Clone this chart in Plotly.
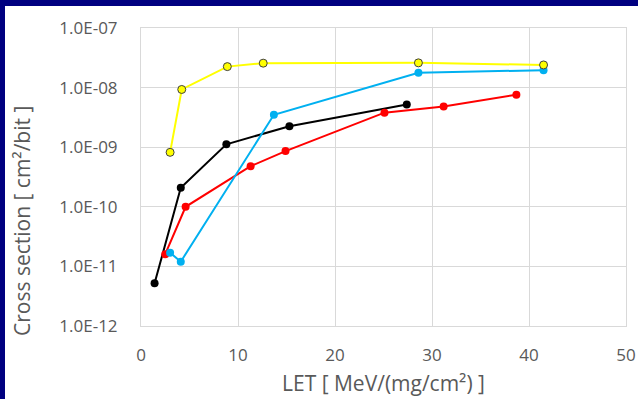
import plotly.graph_objects as go

# Data
yellow_x = [3.0, 4.2, 8.9, 12.6, 28.6, 41.5]
yellow_y = [8.2e-10, 9.3e-9, 2.25e-8, 2.57e-8, 2.6e-8, 2.4e-8]

blue_x = [3.0, 4.1, 13.7, 28.6, 41.5]
blue_y = [1.7e-11, 1.2e-11, 3.5e-9, 1.78e-8, 1.96e-8]

black_x = [1.4, 4.1, 8.8, 15.3, 27.4]
black_y = [5.2e-12, 2.08e-10, 1.12e-9, 2.25e-9, 5.2e-9]

red_x = [2.5, 4.6, 11.3, 14.9, 25.1, 31.2, 38.7]
red_y = [1.6e-11, 1.0e-10, 4.8e-10, 8.6e-10, 3.8e-9, 4.8e-9, 7.6e-9]

y_tickvals = [1e-12, 1e-11, 1e-10, 1e-9, 1e-8, 1e-7]
y_ticktext = ["1.0E-12", "1.0E-11", "1.0E-10", "1.0E-09", "1.0E-08", "1.0E-07"]
x_tickvals = [0, 10, 20, 30, 40, 50]

FONT = "Open Sans"
GRAY = "#595959"
GRID = "#d9d9d9"

W, H = 638, 399
ML, MR, MT, MB = 141, 12, 28, 73
PW = W - ML - MR
PH = H - MT - MB

fig = go.Figure()

def add(x, y, color, mcolor, lcolor_m, lw_m):
    fig.add_trace(go.Scatter(
        x=x, y=y, mode="lines+markers",
        line=dict(color=color, width=2),
        marker=dict(size=8, color=mcolor, line=dict(color=lcolor_m, width=lw_m)),
        showlegend=False,
    ))

add(black_x, black_y, "#000000", "#000000", "#000000", 0)
add(red_x, red_y, "#ff0000", "#ff0000", "#ff0000", 0)
add(blue_x, blue_y, "#00b0f0", "#00b0f0", "#00b0f0", 0)
add(yellow_x, yellow_y, "#ffff00", "#ffff00", "#404040", 1)

fig.update_layout(
    width=W, height=H, autosize=False,
    margin=dict(l=ML, r=MR, t=MT, b=MB),
    paper_bgcolor="white", plot_bgcolor="white",
    font=dict(family=FONT, color=GRAY),
    showlegend=False,
    xaxis=dict(
        range=[0, 50], tickvals=x_tickvals, automargin=False,
        showgrid=True, gridcolor=GRID, gridwidth=1,
        showline=True, linecolor=GRID, linewidth=1, mirror=True,
        zeroline=False, ticks="", ticklabelstandoff=14,
        tickfont=dict(family=FONT, size=17, color=GRAY),
    ),
    yaxis=dict(
        type="log", range=[-12, -7], tickvals=y_tickvals, ticktext=y_ticktext,
        automargin=False,
        showgrid=True, gridcolor=GRID, gridwidth=1,
        showline=True, linecolor=GRID, linewidth=1, mirror=True,
        zeroline=False, ticks="", ticklabelstandoff=19,
        tickfont=dict(family=FONT, size=17, color=GRAY),
    ),
    annotations=[
        dict(text="LET [ MeV/(mg/cm²) ]", xref="paper", yref="paper",
             x=0.5, y=-(383 - MT - PH) / PH, xanchor="center", yanchor="middle",
             showarrow=False, font=dict(family=FONT, size=21, color=GRAY)),
        dict(text="Cross section [ cm²/bit ]", xref="paper", yref="paper",
             x=-(ML - 22) / PW, y=1 - (221 - MT) / PH, xanchor="center", yanchor="middle",
             textangle=-90, showarrow=False, font=dict(family=FONT, size=21, color=GRAY)),
    ],
    shapes=[
        dict(type="rect", xref="paper", yref="paper",
             x0=-ML / PW, x1=(W - ML) / PW, y0=1 + (MT - 6) / PH, y1=1 + MT / PH,
             fillcolor="#000080", line=dict(width=0), layer="above"),
        dict(type="rect", xref="paper", yref="paper",
             x0=-ML / PW, x1=-(ML - 5) / PW, y0=-MB / PH, y1=1 + MT / PH,
             fillcolor="#000080", line=dict(width=0), layer="above"),
    ],
)

fig.write_html(
    "out.html",
    config={"displayModeBar": False, "responsive": False},
    default_width="638px", default_height="399px",
    post_script="document.body.style.margin='0';document.body.style.overflow='hidden';",
)
